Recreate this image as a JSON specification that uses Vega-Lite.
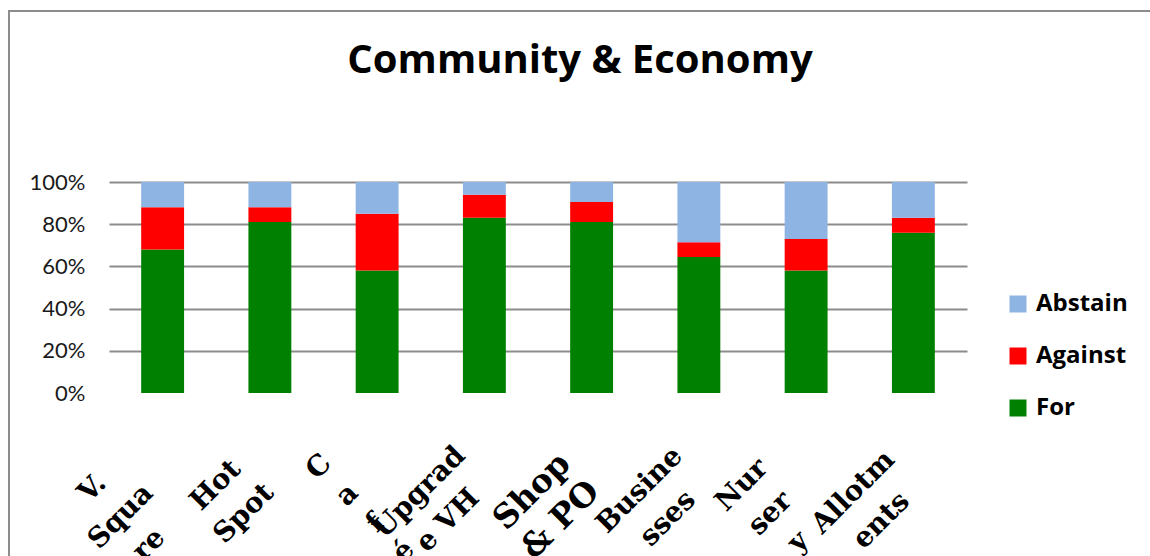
{
  "$schema": "https://vega.github.io/schema/vega-lite/v6.json",
  "width": 1145,
  "height": 550,
  "autosize": {"type": "none"},
  "padding": {"left": 9, "top": 11, "right": 0, "bottom": 0},
  "background": "white",
  "title": {
    "text": "Community & Economy",
    "font": "Open Sans",
    "fontSize": 40,
    "fontWeight": "bold",
    "color": "black",
    "anchor": "middle",
    "dx": -1.5,
    "offset": -70
  },
  "data": {
    "values": [
      {"item": "V. Square", "response": "For", "value": 68},
      {"item": "V. Square", "response": "Against", "value": 20},
      {"item": "V. Square", "response": "Abstain", "value": 12},
      {"item": "Hot Spot", "response": "For", "value": 81},
      {"item": "Hot Spot", "response": "Against", "value": 7},
      {"item": "Hot Spot", "response": "Abstain", "value": 12},
      {"item": "Café", "response": "For", "value": 58},
      {"item": "Café", "response": "Against", "value": 27},
      {"item": "Café", "response": "Abstain", "value": 15},
      {"item": "Upgrade VH", "response": "For", "value": 83},
      {"item": "Upgrade VH", "response": "Against", "value": 11},
      {"item": "Upgrade VH", "response": "Abstain", "value": 6},
      {"item": "Shop & PO", "response": "For", "value": 81},
      {"item": "Shop & PO", "response": "Against", "value": 9.5},
      {"item": "Shop & PO", "response": "Abstain", "value": 9.5},
      {"item": "Businesses", "response": "For", "value": 64.5},
      {"item": "Businesses", "response": "Against", "value": 7},
      {"item": "Businesses", "response": "Abstain", "value": 28.5},
      {"item": "Nursery", "response": "For", "value": 58},
      {"item": "Nursery", "response": "Against", "value": 15},
      {"item": "Nursery", "response": "Abstain", "value": 27},
      {"item": "Allotments", "response": "For", "value": 76},
      {"item": "Allotments", "response": "Against", "value": 7},
      {"item": "Allotments", "response": "Abstain", "value": 17}
    ]
  },
  "mark": {"type": "bar"},
  "encoding": {
    "x": {
      "field": "item",
      "type": "nominal",
      "sort": null,
      "scale": {"range": [100, 958], "paddingInner": 0.6, "paddingOuter": 0.3},
      "axis": {
        "title": null,
        "domain": false,
        "ticks": false,
        "tickSize": 0,
        "offset": -168,
        "labelAngle": -45,
        "labelAlign": "center",
        "labelBaseline": "middle",
        "labelFont": "DejaVu Serif",
        "labelFontWeight": "bold",
        "labelFontSize": {"condition": {"test": "datum.value === 'Shop & PO'", "value": 33}, "value": 28},
        "labelLineHeight": 40,
        "labelColor": "black",
        "labelOverlap": false,
        "labelBound": false,
        "labelLimit": 0,
        "labelOffset": {
          "condition": [
            {"test": "datum.value === 'V. Square'", "value": -70},
            {"test": "datum.value === 'Hot Spot'", "value": -54},
            {"test": "datum.value === 'Café'", "value": -58},
            {"test": "datum.value === 'Upgrade VH'", "value": -64.5},
            {"test": "datum.value === 'Shop & PO'", "value": -59.5},
            {"test": "datum.value === 'Nursery'", "value": -64},
            {"test": "datum.value === 'Allotments'", "value": -60}
          ],
          "value": -59
        },
        "labelPadding": {
          "condition": [
            {"test": "datum.value === 'V. Square'", "value": 95},
            {"test": "datum.value === 'Hot Spot'", "value": 92},
            {"test": "datum.value === 'Café'", "value": 73.5},
            {"test": "datum.value === 'Upgrade VH'", "value": 99},
            {"test": "datum.value === 'Shop & PO'", "value": 98},
            {"test": "datum.value === 'Nursery'", "value": 92},
            {"test": "datum.value === 'Allotments'", "value": 99}
          ],
          "value": 97
        },
        "labelExpr": "{'V. Square': ['V.', 'Squa', 're'], 'Hot Spot': ['Hot', 'Spot'], 'Café': ['C', 'a', 'f', 'é'], 'Upgrade VH': ['Upgrad', 'e VH'], 'Shop & PO': ['Shop', '& PO'], 'Businesses': ['Busine', 'sses'], 'Nursery': ['Nur', 'ser', 'y'], 'Allotments': ['Allotm', 'ents']}[datum.value]"
      }
    },
    "y": {
      "field": "value",
      "type": "quantitative",
      "stack": "normalize",
      "scale": {"domain": [0, 1], "range": [382, 171]},
      "axis": {
        "title": null,
        "domain": false,
        "ticks": false,
        "tickSize": 0,
        "offset": -100,
        "values": [0, 0.2, 0.4, 0.6, 0.8, 1],
        "format": ".0%",
        "labelFont": "Lato",
        "labelFontSize": 22,
        "labelColor": "#1a1a1a",
        "labelPadding": 24,
        "gridColor": "#8c8c8c",
        "gridWidth": 2,
        "gridOpacity": {"condition": {"test": "datum.value === 0", "value": 0}, "value": 1}
      }
    },
    "color": {
      "field": "response",
      "type": "nominal",
      "scale": {"domain": ["Abstain", "Against", "For"], "range": ["#8EB4E3", "#FF0000", "#008000"]},
      "legend": {
        "title": null,
        "orient": "none",
        "legendX": 997,
        "legendY": 281,
        "symbolType": "square",
        "symbolSize": 289,
        "symbolStrokeWidth": 0,
        "labelFont": "Open Sans",
        "labelFontSize": 24,
        "labelFontWeight": "bold",
        "labelColor": "black",
        "rowPadding": 28,
        "labelOffset": 6
      }
    },
    "order": {"field": "response", "sort": "descending"}
  },
  "config": {"view": {"stroke": "#8c8c8c", "strokeWidth": 2}}
}
